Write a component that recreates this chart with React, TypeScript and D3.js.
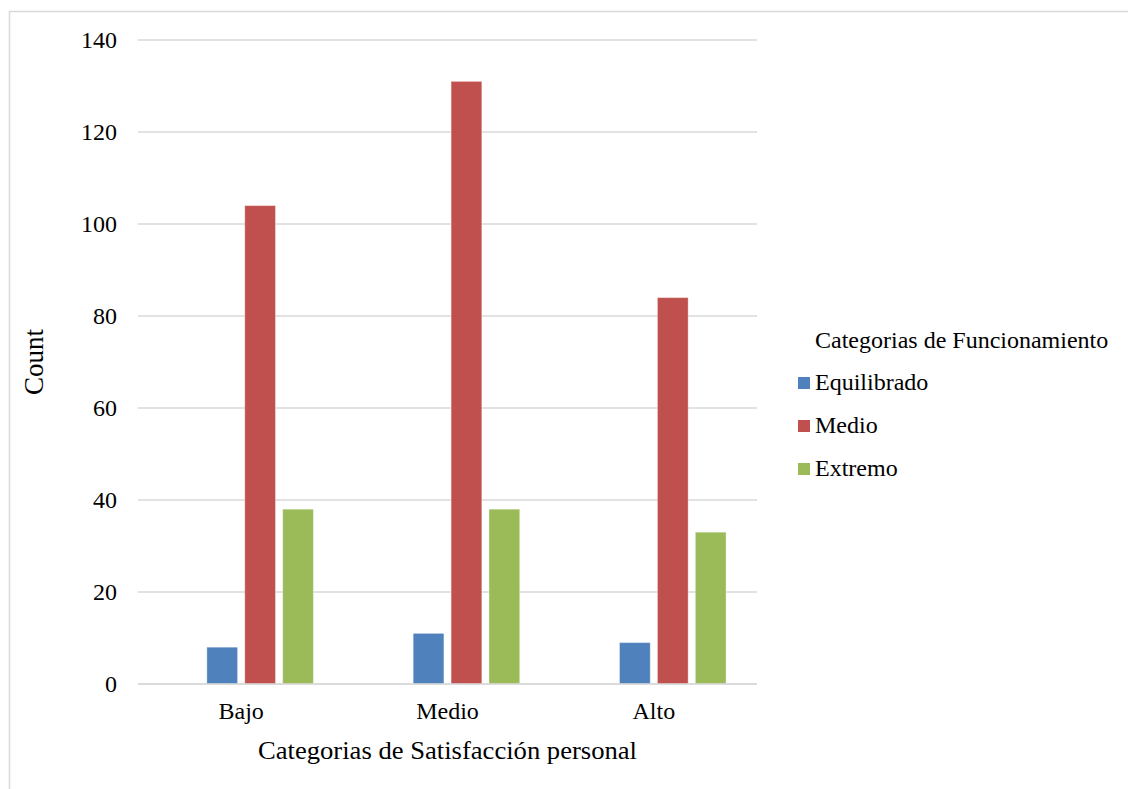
import React from "react";
import * as d3 from "d3";

const categories = ["Bajo", "Medio", "Alto"];
const seriesNames = ["Equilibrado", "Medio", "Extremo"];
const equilibrado = [8, 11, 9];
const medio = [104, 131, 84];
const extremo = [38, 38, 33];
const seriesColors = ["#4F81BD", "#C0504D", "#9BBB59"];
const yTicks = [0, 20, 40, 60, 80, 100, 120, 140];
// SPSS-style layout reserves one empty slot before the three series
const slots = ["(vacío)", ...seriesNames];

const W = 1128;
const H = 789;
const left = 138;
const right = 757;
const top = 40;
const bottom = 684;
const FONT = "'Liberation Serif', 'Times New Roman', serif";

export default function App() {
  const seriesValues = [equilibrado, medio, extremo];
  const x0 = d3.scaleBand<string>().domain(categories).range([left, right]).paddingInner(0.3).paddingOuter(0.15);
  const x1 = d3.scaleBand<string>().domain(slots).range([0, x0.bandwidth()]).paddingInner(0.19).paddingOuter(0);
  const y = d3.scaleLinear().domain([0, 140]).range([bottom, top]);

  return (
    <div style={{ position: "absolute", left: 0, top: 0 }}>
      <svg width={W} height={H} style={{ display: "block" }}>
        <rect x={0} y={0} width={W} height={H} fill="#fff" />
        <rect x={9.5} y={11.5} width={W + 20} height={H + 20} fill="none" stroke="#d9d9d9" strokeWidth={1.5} />
        {yTicks.map((t) => (
          <g key={t}>
            <line x1={left} x2={right} y1={y(t)} y2={y(t)} stroke="#d9d9d9" strokeWidth={1.4} />
            <text x={117} y={y(t)} dy="0.35em" textAnchor="end" fontFamily={FONT} fontSize={24} fill="#000">
              {t}
            </text>
          </g>
        ))}
        {categories.map((c, ci) => (
          <g key={c}>
            {seriesNames.map((s, si) => {
              const v = seriesValues[si][ci];
              return (
                <rect
                  key={s}
                  x={(x0(c) as number) + (x1(s) as number)}
                  y={y(v)}
                  width={x1.bandwidth()}
                  height={y(0) - y(v)}
                  fill={seriesColors[si]}
                  stroke="#ffffff"
                  strokeOpacity={0.35}
                  strokeWidth={1}
                />
              );
            })}
            <text x={(x0(c) as number) + x0.bandwidth() / 2} y={719} textAnchor="middle" fontFamily={FONT} fontSize={24} fill="#000">
              {c}
            </text>
          </g>
        ))}
        <line x1={left} x2={right} y1={y(0)} y2={y(0)} stroke="#d9d9d9" strokeWidth={1.4} />
        <text
          x={(left + right) / 2}
          y={759}
          textAnchor="middle"
          fontFamily={FONT}
          fontSize={26}
          textLength={379}
          lengthAdjust="spacingAndGlyphs"
          fill="#000"
        >
          Categorias de Satisfacción personal
        </text>
        <text
          transform={`translate(43, 362) rotate(-90)`}
          textAnchor="middle"
          fontFamily={FONT}
          fontSize={27}
          fill="#000"
        >
          Count
        </text>
        <text x={815} y={348} fontFamily={FONT} fontSize={24} fill="#000">
          Categorias de Funcionamiento
        </text>
        {seriesNames.map((s, i) => (
          <g key={s}>
            <rect x={798} y={377 + i * 43} width={12} height={12} fill={seriesColors[i]} />
            <text x={815} y={390 + i * 43} fontFamily={FONT} fontSize={24} fill="#000">
              {s}
            </text>
          </g>
        ))}
      </svg>
    </div>
  );
}
